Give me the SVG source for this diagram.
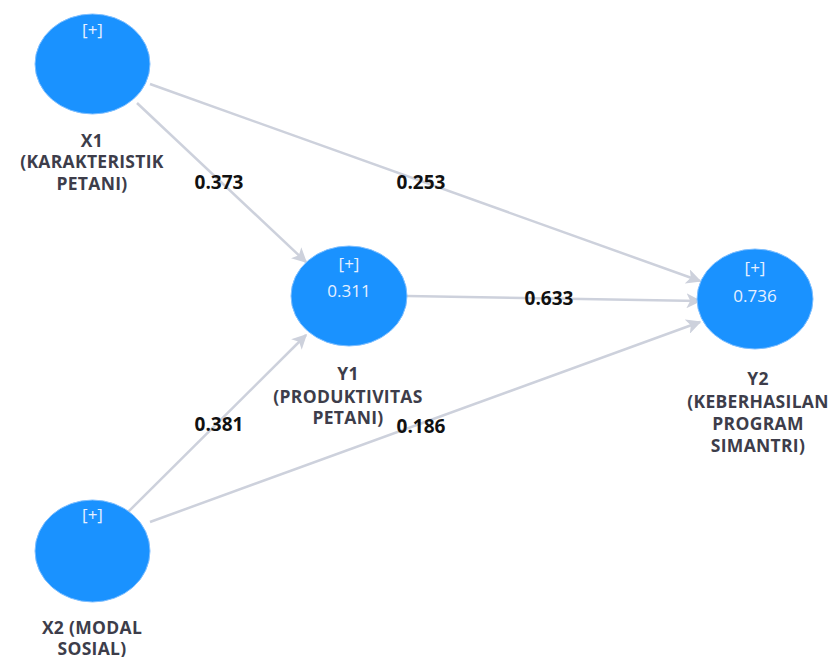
<svg xmlns="http://www.w3.org/2000/svg" width="832" height="657" viewBox="0 0 832 657">
<defs>
<style>
.node{fill:#1a92ff;stroke:#7fbfff;stroke-width:1}
.in{font-family:"Open Sans","DejaVu Sans",sans-serif;font-size:17px;fill:#e6f0ff;text-anchor:middle}
.lbl{font-family:"Open Sans","DejaVu Sans",sans-serif;font-size:17.5px;font-weight:bold;fill:#3d3d4a;text-anchor:middle;letter-spacing:0.3px}
.coef{font-family:"Open Sans","DejaVu Sans",sans-serif;font-size:19px;font-weight:bold;fill:#111;text-anchor:middle}
.edge{stroke:#cdd1dc;stroke-width:2.5;fill:none;marker-end:url(#ah)}
</style>
<marker id="ah" viewBox="0 0 10 10" refX="9" refY="5" markerWidth="6" markerHeight="6" markerUnits="strokeWidth" orient="auto">
<path d="M0,0 L10,5 L0,10 L2.5,5 Z" fill="#cdd1dc"/>
</marker>
</defs>
<rect width="832" height="657" fill="#ffffff"/>
<g id="connectors">
<line class="edge" x1="137" y1="103" x2="306" y2="262"/>
<line class="edge" x1="150" y1="84" x2="700" y2="281"/>
<line class="edge" x1="407" y1="296" x2="700" y2="301"/>
<line class="edge" x1="128" y1="512" x2="306" y2="335"/>
<line class="edge" x1="150" y1="522" x2="700" y2="322"/>
<text class="coef" x="219" y="189">0.373</text>
<text class="coef" x="421" y="189">0.253</text>
<text class="coef" x="549" y="305">0.633</text>
<text class="coef" x="219" y="431">0.381</text>
<text class="coef" x="421" y="433">0.186</text>
</g>
<g id="X1">
<ellipse class="node" cx="92.5" cy="64" rx="57.5" ry="50"/>
<text class="in" x="92.5" y="36">[+]</text>
<text class="lbl" x="92" y="147">X1</text>
<text class="lbl" x="92" y="168">(KARAKTERISTIK</text>
<text class="lbl" x="92" y="190">PETANI)</text>
</g>
<g id="Y1">
<ellipse class="node" cx="349" cy="296" rx="58" ry="50"/>
<text class="in" x="349" y="270">[+]</text>
<text class="in" x="349" y="297">0.311</text>
<text class="lbl" x="348" y="380">Y1</text>
<text class="lbl" x="348" y="403">(PRODUKTIVITAS</text>
<text class="lbl" x="348" y="424">PETANI)</text>
</g>
<g id="Y2">
<ellipse class="node" cx="755" cy="299" rx="58" ry="50"/>
<text class="in" x="755" y="274">[+]</text>
<text class="in" x="755" y="302">0.736</text>
<text class="lbl" x="758" y="385">Y2</text>
<text class="lbl" x="758" y="408">(KEBERHASILAN</text>
<text class="lbl" x="758" y="430">PROGRAM</text>
<text class="lbl" x="758" y="452">SIMANTRI)</text>
</g>
<g id="X2">
<ellipse class="node" cx="92.5" cy="551" rx="57.5" ry="51"/>
<text class="in" x="92.5" y="521">[+]</text>
<text class="lbl" x="92" y="634">X2 (MODAL</text>
<text class="lbl" x="92" y="655">SOSIAL)</text>
</g>
</svg>
